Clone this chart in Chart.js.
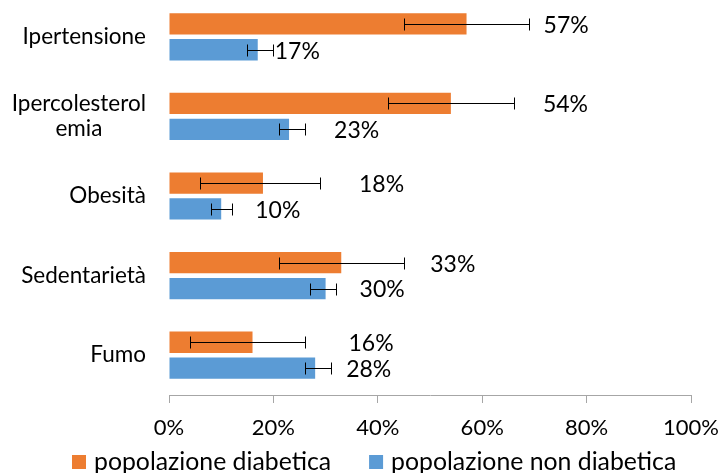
<!DOCTYPE html>
<html>
<head>
<meta charset="utf-8">
<script src="https://cdn.jsdelivr.net/npm/chart.js@4.4.1/dist/chart.umd.min.js"></script>
<style>
  body { margin: 0; background: #fff; overflow: hidden; }
  #wrap { position: absolute; left: 0; top: -3px; width: 723px; height: 476px; }
</style>
</head>
<body>
<div id="wrap"><canvas id="myChart" width="723" height="476"></canvas></div>
<script>
// data (percent)
const categories = ['Ipertensione', ['Ipercolesterol', 'emia'], 'Obesità', 'Sedentarietà', 'Fumo'];
const diabetici = [57, 54, 18, 33, 16];
const nonDiabetici = [17, 23, 10, 30, 28];
// error bar ends
const diabeticiLow = [45, 42, 6, 21, 4];
const diabeticiHigh = [69, 66, 29, 45, 26];
const nonDiabeticiLow = [15, 21, 8, 27, 26];
const nonDiabeticiHigh = [20, 26, 12, 32, 31];
const seriesNames = ['popolazione diabetica', 'popolazione non diabetica'];

const FONT = 'Lato, "Open Sans", sans-serif';
const errLow = [diabeticiLow, nonDiabeticiLow];
const errHigh = [diabeticiHigh, nonDiabeticiHigh];
// label gap from bar end (px), labels were moved by hand in the original
const labelGap = [[77, 92, 96, 89, 96], [17, 45, 34, 34, 31]];

const extras = {
  id: 'extras',
  afterDatasetsDraw(chart) {
    const ctx = chart.ctx;
    const x = chart.scales.x;
    const y = chart.scales.y;
    ctx.save();

    // error bars
    ctx.strokeStyle = '#000';
    ctx.lineWidth = 1;
    chart.data.datasets.forEach((ds, d) => {
      chart.getDatasetMeta(d).data.forEach((bar, i) => {
        const x1 = Math.round(x.getPixelForValue(errLow[d][i])) + 0.5;
        const x2 = Math.round(x.getPixelForValue(errHigh[d][i])) + 0.5;
        const yy = Math.round(bar.y) + 0.5;
        ctx.beginPath();
        ctx.moveTo(x1, yy); ctx.lineTo(x2, yy);
        ctx.moveTo(x1, yy - 6); ctx.lineTo(x1, yy + 6);
        ctx.moveTo(x2, yy - 6); ctx.lineTo(x2, yy + 6);
        ctx.stroke();
      });
    });

    // value labels
    ctx.fillStyle = '#000';
    ctx.font = '23px ' + FONT;
    ctx.textAlign = 'left';
    ctx.textBaseline = 'middle';
    chart.data.datasets.forEach((ds, d) => {
      chart.getDatasetMeta(d).data.forEach((bar, i) => {
        ctx.fillText(ds.data[i] + '%', bar.x + labelGap[d][i], bar.y + 1.5);
      });
    });

    // category labels, lines centred inside a right aligned block
    ctx.font = '22.5px ' + FONT;
    categories.forEach((c, i) => {
      const lines = Array.isArray(c) ? c : [c];
      const w = Math.max(...lines.map(l => ctx.measureText(l).width));
      const cy = y.getPixelForTick(i);
      ctx.textAlign = 'center';
      lines.forEach((l, k) => {
        ctx.fillText(l, 146 - w / 2, cy + (k - (lines.length - 1) / 2) * 25);
      });
    });

    // legend
    let lx = 72;
    const ly = 465;
    ctx.font = '24.8px ' + FONT;
    ctx.textAlign = 'left';
    chart.data.datasets.forEach((ds) => {
      ctx.fillStyle = ds.backgroundColor;
      ctx.fillRect(lx, ly - 7, 14, 14);
      ctx.fillStyle = '#000';
      ctx.fillText(ds.label, lx + 22, ly);
      lx += 22 + ctx.measureText(ds.label).width + 38;
    });
    ctx.restore();
  }
};

new Chart(document.getElementById('myChart').getContext('2d'), {
  type: 'bar',
  data: {
    labels: categories,
    datasets: [{
      label: seriesNames[0],
      data: diabetici,
      backgroundColor: '#ED7D31'
    }, {
      label: seriesNames[1],
      data: nonDiabetici,
      backgroundColor: '#5B9BD5'
    }]
  },
  options: {
    indexAxis: 'y',
    responsive: false,
    animation: false,
    devicePixelRatio: 1,
    layout: { padding: { top: 0, right: 32, bottom: 38, left: 0 } },
    datasets: { bar: { categoryPercentage: 0.651, barPercentage: 0.822, borderWidth: 0 } },
    scales: {
      x: {
        min: 0,
        max: 100,
        ticks: {
          stepSize: 20,
          callback: v => v + '%',
          color: '#000',
          font: { family: FONT, size: 22 },
          padding: 12,
          maxRotation: 0
        },
        grid: { drawOnChartArea: false, tickLength: 8, color: '#a6a6a6' },
        border: { color: '#a6a6a6' },
        afterFit(s) { s.height = 40; s.paddingLeft = 0; s.paddingRight = 0; }
      },
      y: {
        ticks: { display: false },
        grid: { display: false },
        border: { display: false },
        afterFit(s) { s.width = 169; }
      }
    },
    plugins: {
      legend: { display: false },
      tooltip: { enabled: false }
    }
  },
  plugins: [extras]
});
</script>
</body>
</html>
